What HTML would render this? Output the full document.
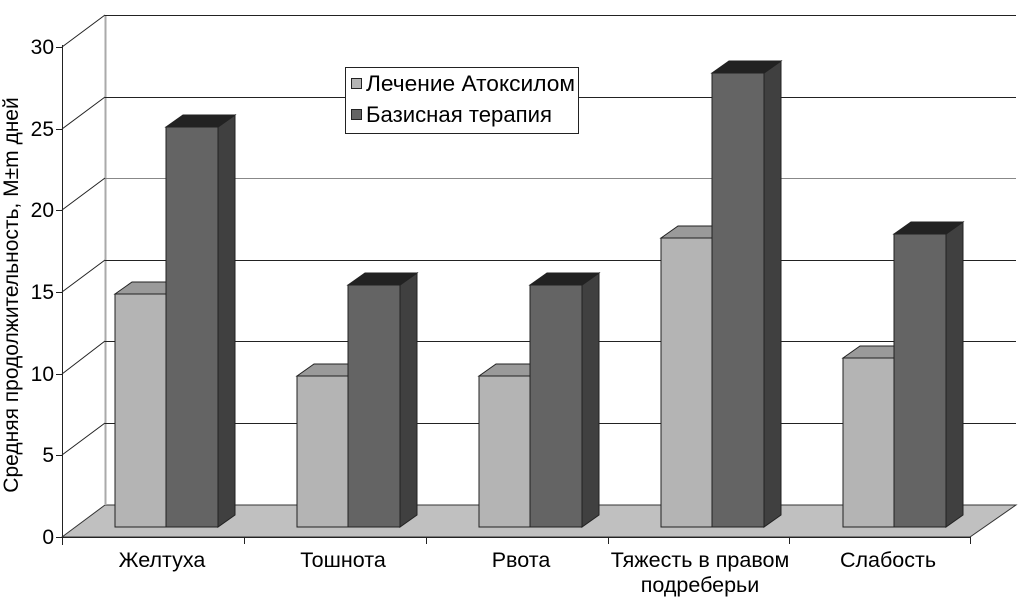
<!DOCTYPE html>
<html><head><meta charset="utf-8"><style>
html,body{margin:0;padding:0;background:#fff;width:1024px;height:600px;overflow:hidden}
svg{display:block}
text{font-family:"Liberation Sans","DejaVu Sans",sans-serif;fill:#000}
</style></head><body>
<svg width="1024" height="600" viewBox="0 0 1024 600" xmlns="http://www.w3.org/2000/svg">
<polygon points="62,537 105,505 1016,505 970,537" fill="#c0c0c0" stroke="#333" stroke-width="1"/>
<line x1="105.5" y1="15" x2="105.5" y2="505" stroke="#aaa" stroke-width="2"/>
<g stroke="#222" stroke-width="1">
<line x1="105" y1="15.5" x2="1016" y2="15.5"/>
<line x1="105" y1="97.5" x2="1016" y2="97.5"/>
<line x1="105" y1="178.5" x2="1016" y2="178.5" stroke="#888"/>
<line x1="105" y1="260.5" x2="1016" y2="260.5"/>
<line x1="105" y1="341.5" x2="1016" y2="341.5"/>
<line x1="105" y1="423.5" x2="1016" y2="423.5"/>
<line x1="62" y1="47" x2="105" y2="15"/>
<line x1="62" y1="129" x2="105" y2="97"/>
<line x1="62" y1="210" x2="105" y2="178"/>
<line x1="62" y1="292" x2="105" y2="260"/>
<line x1="62" y1="374" x2="105" y2="341"/>
<line x1="62" y1="455" x2="105" y2="423"/>
</g>
<g stroke="#222" stroke-width="1">
<line x1="62.5" y1="45" x2="62.5" y2="545"/>
<line x1="62" y1="537.5" x2="970" y2="537.5"/>
<line x1="56" y1="47.5" x2="62" y2="47.5"/>
<line x1="56" y1="129.5" x2="62" y2="129.5"/>
<line x1="56" y1="210.5" x2="62" y2="210.5"/>
<line x1="56" y1="292.5" x2="62" y2="292.5"/>
<line x1="56" y1="374.5" x2="62" y2="374.5"/>
<line x1="56" y1="455.5" x2="62" y2="455.5"/>
<line x1="56" y1="537.5" x2="62" y2="537.5"/>
<line x1="244.5" y1="537" x2="244.5" y2="544"/>
<line x1="426.5" y1="537" x2="426.5" y2="544"/>
<line x1="608.5" y1="537" x2="608.5" y2="544"/>
<line x1="789.5" y1="537" x2="789.5" y2="544"/>
<line x1="970.5" y1="537" x2="970.5" y2="544"/>
</g>
<g font-size="21" text-anchor="end">
<text x="54" y="54">30</text>
<text x="54" y="136">25</text>
<text x="54" y="217">20</text>
<text x="54" y="299">15</text>
<text x="54" y="381">10</text>
<text x="54" y="462">5</text>
<text x="54" y="544">0</text>
</g>
<text transform="translate(18,295) rotate(-90)" font-size="21" text-anchor="middle">Средняя продолжительность, M±m дней</text>
<g stroke="#222" stroke-width="1">
<polygon points="115,294 132,282 183,282 166,294" fill="#9a9a9a"/>
<rect x="115" y="294" width="51" height="233" fill="#b4b4b4"/>
<polygon points="218,127 235,115 235,515 218,527" fill="#404040"/>
<polygon points="166,127 183,115 235,115 218,127" fill="#222"/>
<rect x="166" y="127" width="52" height="400" fill="#646464"/>
<polygon points="297,376 314,364 365,364 348,376" fill="#9a9a9a"/>
<rect x="297" y="376" width="51" height="151" fill="#b4b4b4"/>
<polygon points="400,285 417,273 417,515 400,527" fill="#404040"/>
<polygon points="348,285 365,273 417,273 400,285" fill="#222"/>
<rect x="348" y="285" width="52" height="242" fill="#646464"/>
<polygon points="479,376 496,364 547,364 530,376" fill="#9a9a9a"/>
<rect x="479" y="376" width="51" height="151" fill="#b4b4b4"/>
<polygon points="582,285 599,273 599,515 582,527" fill="#404040"/>
<polygon points="530,285 547,273 599,273 582,285" fill="#222"/>
<rect x="530" y="285" width="52" height="242" fill="#646464"/>
<polygon points="661,238 678,226 729,226 712,238" fill="#9a9a9a"/>
<rect x="661" y="238" width="51" height="289" fill="#b4b4b4"/>
<polygon points="764,73 781,61 781,515 764,527" fill="#404040"/>
<polygon points="712,73 729,61 781,61 764,73" fill="#222"/>
<rect x="712" y="73" width="52" height="454" fill="#646464"/>
<polygon points="843,358 860,346 911,346 894,358" fill="#9a9a9a"/>
<rect x="843" y="358" width="51" height="169" fill="#b4b4b4"/>
<polygon points="946,234 963,222 963,515 946,527" fill="#404040"/>
<polygon points="894,234 911,222 963,222 946,234" fill="#222"/>
<rect x="894" y="234" width="52" height="293" fill="#646464"/>
</g>
<g font-size="21.5" text-anchor="middle">
<text x="162" y="567">Желтуха</text>
<text x="343" y="567">Тошнота</text>
<text x="521" y="567">Рвота</text>
<text x="700" y="567">Тяжесть в правом</text>
<text x="700" y="592">подреберьи</text>
<text x="888" y="567">Слабость</text>
</g>
<rect x="345.5" y="67.5" width="233" height="66" fill="#fff" stroke="#222"/>
<rect x="351.5" y="78.5" width="10" height="10" fill="#b4b4b4" stroke="#222"/>
<rect x="351.5" y="109.5" width="10" height="10" fill="#646464" stroke="#222"/>
<text x="366" y="91" font-size="22" textLength="209" lengthAdjust="spacingAndGlyphs">Лечение Атоксилом</text>
<text x="366" y="122" font-size="22" textLength="186" lengthAdjust="spacingAndGlyphs">Базисная  терапия</text>
</svg>
</body></html>
